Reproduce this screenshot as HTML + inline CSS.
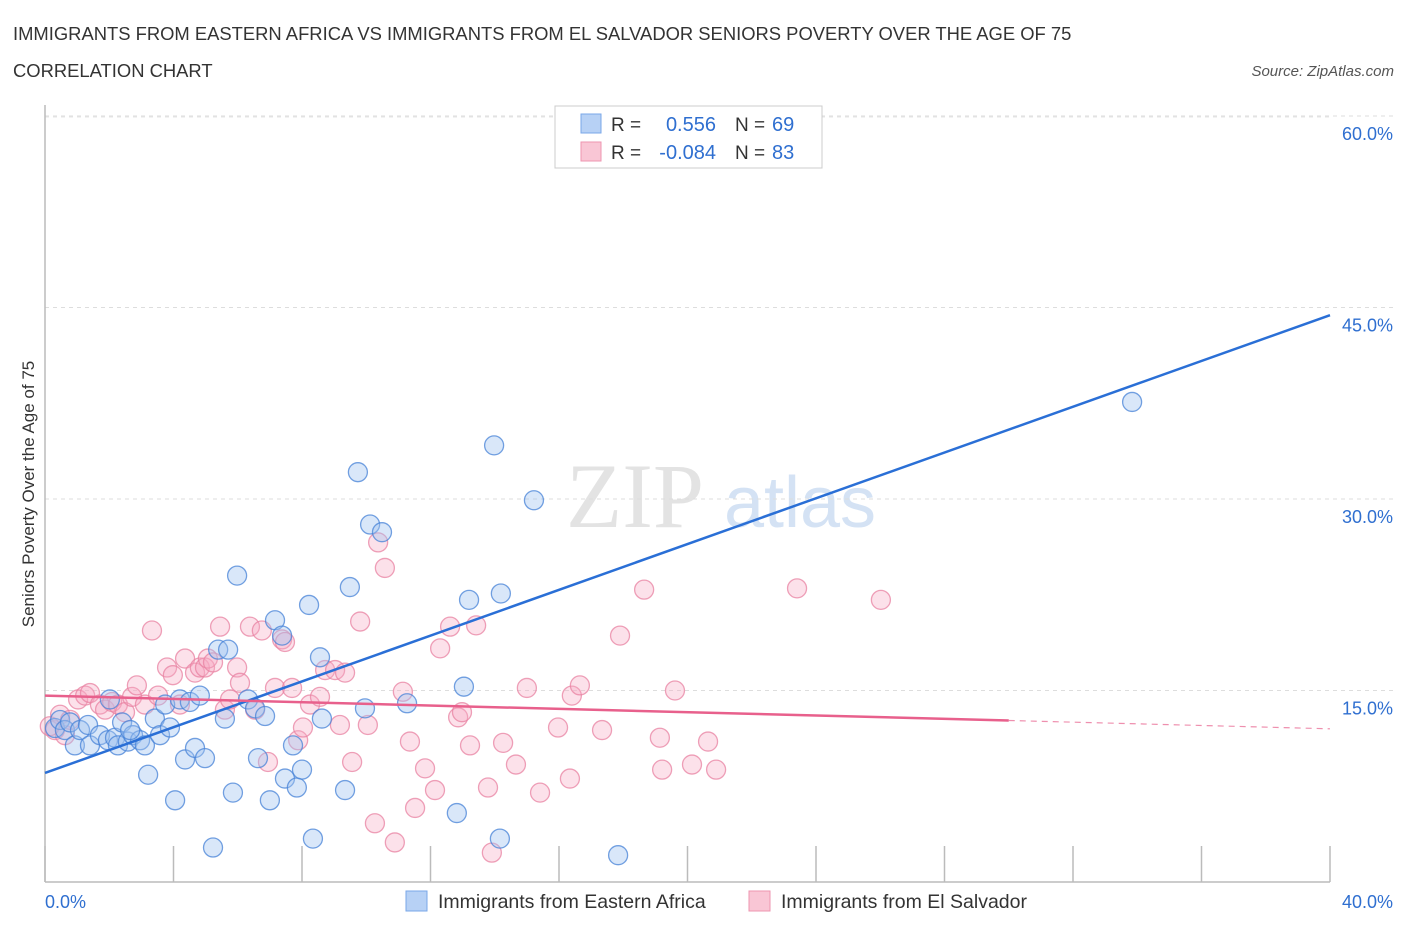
<!DOCTYPE html>
<html><head><meta charset="utf-8"><style>
body{margin:0;background:#fff;font-family:"Liberation Sans",sans-serif;}
svg{display:block}
</style></head><body>
<svg id="chart" width="1406" height="930" xmlns="http://www.w3.org/2000/svg">
<text x="13" y="40" font-size="18.4" fill="#333">IMMIGRANTS FROM EASTERN AFRICA VS IMMIGRANTS FROM EL SALVADOR SENIORS POVERTY OVER THE AGE OF 75</text>
<text x="13" y="77" font-size="18.4" fill="#333">CORRELATION CHART</text>
<text x="1394" y="76" font-size="15" fill="#555" text-anchor="end" font-style="italic">Source: ZipAtlas.com</text>
<g>
<text x="635" y="527" font-size="92" fill="#d8d8d8" font-family="Liberation Serif" text-anchor="middle" opacity="0.7">ZIP</text>
<text x="800" y="527" font-size="72" fill="#b8d0ee" text-anchor="middle" opacity="0.6">atlas</text>
</g>
<g id="grid"></g>
<g id="axes"></g>
<g id="points"></g>
<g id="trends"></g>
<text transform="translate(34,494) rotate(-90)" font-size="17" fill="#333" text-anchor="middle">Seniors Poverty Over the Age of 75</text>
<g>
<rect x="555" y="106" width="267" height="62" fill="#fff" stroke="#ccc"/>
<rect x="581" y="114" width="20" height="19" fill="#b7d1f5" stroke="#7aa7e8"/>
<rect x="581" y="142" width="20" height="19" fill="#f9c6d5" stroke="#ee95b0"/>
<text x="611" y="131" font-size="19" fill="#333">R =</text>
<text x="716" y="131" font-size="20" fill="#2f6fd0" text-anchor="end">0.556</text>
<text x="735" y="131" font-size="19" fill="#333">N =</text>
<text x="772" y="131" font-size="20" fill="#2f6fd0">69</text>
<text x="611" y="159" font-size="19" fill="#333">R =</text>
<text x="716" y="159" font-size="20" fill="#2f6fd0" text-anchor="end">-0.084</text>
<text x="735" y="159" font-size="19" fill="#333">N =</text>
<text x="772" y="159" font-size="20" fill="#2f6fd0">83</text>
</g>
<g>
<rect x="406" y="891" width="21" height="20" fill="#b7d1f5" stroke="#7aa7e8"/>
<text x="438" y="908" font-size="19.5" fill="#333">Immigrants from Eastern Africa</text>
<rect x="749" y="891" width="21" height="20" fill="#f9c6d5" stroke="#ee95b0"/>
<text x="781" y="908" font-size="19.5" fill="#333">Immigrants from El Salvador</text>
</g>
</svg>
<script>
const blueX=[0.31,0.47,0.62,0.78,0.93,1.09,1.34,1.40,1.71,1.96,2.18,2.27,2.40,2.58,2.74,2.96,3.11,3.21,3.42,3.58,3.74,3.89,4.05,4.20,4.36,4.51,4.67,4.82,4.98,5.23,5.39,5.70,5.60,5.85,5.98,6.32,6.54,6.63,6.85,7.00,7.16,7.38,7.47,7.72,7.84,8.00,8.22,8.34,8.56,8.62,9.34,9.49,9.74,9.96,10.12,10.49,11.27,12.82,13.04,13.20,13.98,14.16,14.19,15.22,17.84,33.84,22.32,2.02,2.65];
const blueY=[12.06,12.69,11.9,12.5,10.7,11.9,12.3,10.7,11.5,11.1,11.3,10.7,12.5,11.0,11.5,11.1,10.7,8.4,12.8,11.5,13.9,12.1,6.4,14.3,9.6,14.1,10.5,14.6,9.7,2.7,18.2,18.2,12.8,7.0,24.0,14.3,13.6,9.7,13.0,6.4,20.5,19.3,8.1,10.7,7.4,8.8,21.7,3.4,17.6,12.8,7.2,23.1,32.1,13.6,28.0,27.4,14.0,5.4,15.3,22.1,34.2,3.4,22.6,29.9,2.1,37.6,59.9,14.3,11.9];
const pinkX=[0.31,0.47,0.62,0.78,1.03,1.25,1.40,1.71,1.87,2.09,2.27,2.49,2.71,2.86,3.11,3.33,3.52,3.80,3.98,4.20,4.36,4.67,4.82,4.98,5.07,5.23,5.45,5.60,5.76,5.98,6.07,6.38,6.54,6.75,6.94,7.16,7.38,7.47,7.69,7.88,8.03,8.25,8.56,8.72,9.03,9.18,9.34,9.56,9.81,10.05,10.27,10.37,10.58,10.89,11.14,11.36,11.52,11.83,12.14,12.30,12.61,12.86,12.98,13.23,13.42,13.79,13.91,14.26,14.66,15.00,15.41,15.97,16.34,16.40,16.65,17.34,17.90,18.65,19.14,19.21,19.61,20.14,20.64,20.89,23.41,26.02,0.15];
const pinkY=[11.9,13.1,11.5,12.7,14.3,14.6,14.8,13.9,13.5,14.1,13.9,13.3,14.5,15.4,13.9,19.7,14.6,16.8,16.2,13.9,17.5,16.4,16.8,16.8,17.5,17.2,20.0,13.5,14.3,16.8,15.6,20.0,13.5,19.7,9.4,15.2,19.0,18.8,15.2,11.1,12.1,13.9,14.5,16.6,16.6,12.3,16.4,9.4,20.4,12.3,4.6,26.6,24.6,3.1,14.9,11.0,5.8,8.9,7.2,18.3,20.0,12.9,13.3,10.7,20.1,7.4,2.3,10.9,9.2,15.2,7.0,12.1,8.1,14.6,15.4,11.9,19.3,22.9,11.3,8.8,15.0,9.2,11.0,8.8,23.0,22.1,12.2];
const blueTrend=[8.54,44.4];
const pinkTrend=[14.6,12.0];
const pinkSolidEnd=30;
const yTicks=[15,30,45,60];
const yTickLabels=["15.0%","30.0%","45.0%","60.0%"];
const xTicks=[0,4,8,12,16,20,24,28,32,36,40];

const NS="http://www.w3.org/2000/svg";
const X0=45,X1=1330,Y0=882;
const sx=v=>X0+v/40*(X1-X0);
const sy=v=>Y0-v*12.767;
function mk(tag,attrs,parent){const e=document.createElementNS(NS,tag);for(const k in attrs)e.setAttribute(k,attrs[k]);document.getElementById(parent).appendChild(e);return e;}

yTicks.forEach((t,i)=>{
  const l=mk('line',{x1:X0,x2:1395,y1:sy(t),y2:sy(t),stroke:'#ddd','stroke-dasharray':'4,4'},'grid');
  
  
  const tx=mk('text',{x:1393,y:sy(t)+24,'font-size':18,fill:'#2f6fd0','text-anchor':'end'},'grid');
  tx.textContent=yTickLabels[i];
  
  
});
const topLine=mk('line',{x1:X0,x2:1330,y1:117,y2:117,stroke:'#e6e6e6','stroke-dasharray':'4,4'},'grid');



const ya=mk('line',{x1:X0,x2:X0,y1:105,y2:Y0,stroke:'#bbb','stroke-width':1.5},'axes');


const xa=mk('line',{x1:X0,x2:X1,y1:Y0,y2:Y0,stroke:'#bbb','stroke-width':1.5},'axes');


xTicks.forEach(t=>{
  const l=mk('line',{x1:sx(t),x2:sx(t),y1:Y0-36,y2:Y0,stroke:'#bbb','stroke-width':1.5},'axes');
  
  
});
const xl0=mk('text',{x:45,y:908,'font-size':18,fill:'#2f6fd0'},'axes');xl0.textContent='0.0%';


const xl1=mk('text',{x:1393,y:908,'font-size':18,fill:'#2f6fd0','text-anchor':'end'},'axes');xl1.textContent='40.0%';



pinkX.forEach((v,i)=>{
  const c=mk('circle',{cx:sx(v),cy:sy(pinkY[i]),r:9.5,fill:'rgba(246,170,194,0.35)',stroke:'rgba(232,130,162,0.75)','stroke-width':1.3},'points');
  
  
});
blueX.forEach((v,i)=>{
  const c=mk('circle',{cx:sx(v),cy:sy(blueY[i]),r:9.5,fill:'rgba(160,195,240,0.4)',stroke:'rgba(70,130,215,0.75)','stroke-width':1.3},'points');
  
  
});

const bl=mk('line',{x1:sx(0),y1:sy(blueTrend[0]),x2:sx(40),y2:sy(blueTrend[1]),stroke:'#2a6fd6','stroke-width':2.5},'trends');


const pAt=x=>pinkTrend[0]+(pinkTrend[1]-pinkTrend[0])*x/40;
const pl=mk('line',{x1:sx(0),y1:sy(pAt(0)),x2:sx(pinkSolidEnd),y2:sy(pAt(pinkSolidEnd)),stroke:'#e8608c','stroke-width':2.5},'trends');


const pd=mk('line',{x1:sx(pinkSolidEnd),y1:sy(pAt(pinkSolidEnd)),x2:sx(40),y2:sy(pAt(40)),stroke:'#e8608c','stroke-width':1.2,'stroke-dasharray':'6,5',opacity:0.7},'trends');


</script>
</body></html>
